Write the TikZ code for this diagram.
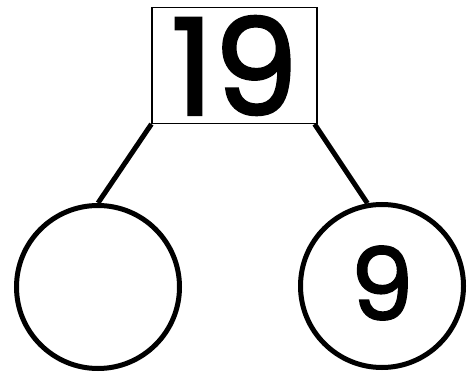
\documentclass[tikz,border=0pt]{standalone}
\usepackage{fontspec}
\setmainfont{Poppins}
\newfontfamily\digitfont{Poppins}[FakeBold=2]
\begin{document}
\begin{tikzpicture}[x=1pt,y=1pt,
  numbox/.style={draw,line width=1.2pt,minimum width=165pt,minimum height=116pt,inner sep=0pt,font=\digitfont\fontsize{134}{134}\selectfont},
  part/.style={circle,draw,line width=5pt,minimum size=163pt,inner sep=0pt,font=\digitfont\fontsize{100}{100}\selectfont},
  link/.style={line width=5pt}]
\useasboundingbox (0,0) rectangle (470,374);
\node[numbox] (whole) at (234.5,308.5) {\raisebox{-6pt}{19}};
\node[part] (left) at (98,87) {};
\node[part] (right) at (382,88) {\raisebox{6pt}{9}};
\draw[link] (whole.south west) -- (left.north);
\draw[link] ([xshift=-3pt]whole.south east) -- (right.100);
\end{tikzpicture}
\end{document}
